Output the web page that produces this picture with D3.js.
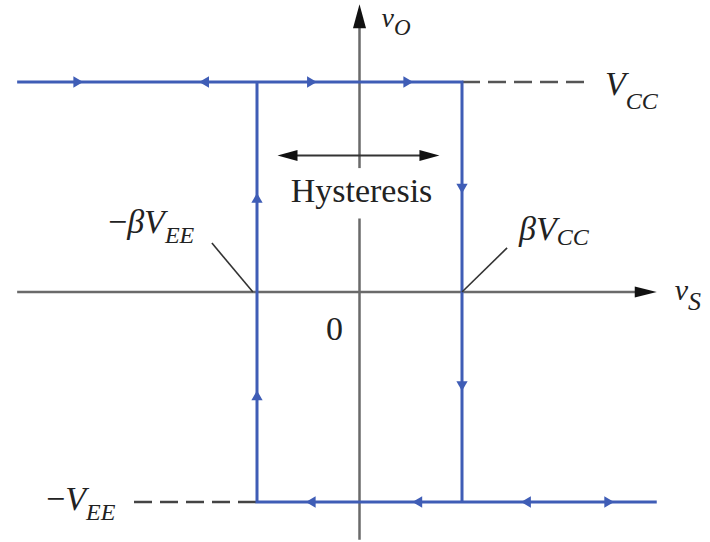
<!DOCTYPE html>
<html lang="en">
  <head>
    <meta charset="UTF-8" />
    <title>Hysteresis loop</title>
    <style>
      body {
        margin: 0;
        background: #fff;
      }
      svg {
        display: block;
      }
      text {
        font-family: "Liberation Serif", "DejaVu Serif", serif;
        fill: #222;
      }
      .var {
        font-style: italic;
      }
    </style>
  </head>
  <body>
    <svg></svg>
    <script src="https://d3js.org/d3.v7.min.js"></script>
    <script>
      // output levels: V_CC (top) and -V_EE (bottom)
      const levels = [1, -1];
      // switching points: -βV_EE and βV_CC
      const thresholds = [-0.5, 0.5];
      // axis extents (input on x, output on y)
      const xAxisExtent = [-1.67, 1.45];
      const yAxisExtent = [-1.18, 1.37];
      // break in the vertical axis around the "Hysteresis" word
      const yAxisGap = [0.35, 0.59];
      // where the dashed level guides stop
      const topGuideEnd = 1.11;
      const bottomGuideStart = -1.1;
      // hysteresis width arrow
      const hysteresisSpan = [-0.4, 0.39];
      const hysteresisLevel = 0.65;
      // direction markers along the loop
      const loopArrows = [
        { x: -1.38, y: 1, dir: "right" },
        { x: -0.75, y: 1, dir: "left" },
        { x: -0.24, y: 1, dir: "right" },
        { x: 0.23, y: 1, dir: "right" },
        { x: -0.23, y: -1, dir: "left" },
        { x: 0.29, y: -1, dir: "left" },
        { x: 0.82, y: -1, dir: "left" },
        { x: 1.21, y: -1, dir: "right" },
        { x: -0.5, y: 0.44, dir: "up" },
        { x: -0.5, y: -0.5, dir: "up" },
        { x: 0.5, y: 0.5, dir: "down" },
        { x: 0.5, y: -0.44, dir: "down" },
      ];
      // leader lines from the threshold labels
      const leaders = [
        [[-0.72, 0.233], [-0.52, 0]],
        [[0.5, 0], [0.72, 0.21]],
      ];

      const width = 710;
      const height = 542;
      const blue = "#3f5db6";
      const axisGray = "#6a6a6a";

      const svg = d3.select("svg").attr("width", width).attr("height", height);

      const x = d3.scaleLinear().domain([-0.5, 0.5]).range([257, 462]);
      const y = d3.scaleLinear().domain([-1, 1]).range([502, 82]);
      const line = d3
        .line()
        .x((d) => x(d[0]))
        .y((d) => y(d[1]));

      // arrow head path with tip at (tx, ty) pointing along angle (radians)
      const arrowHead = (tx, ty, angle, len, half) => {
        const c = Math.cos(angle);
        const s = Math.sin(angle);
        const bx = tx - c * len;
        const by = ty - s * len;
        return `M${tx},${ty}L${bx - s * half},${by + c * half}L${bx + s * half},${by - c * half}Z`;
      };

      // axes
      svg
        .append("path")
        .attr("d", line([[xAxisExtent[0], 0], [xAxisExtent[1] - 0.08, 0]]))
        .attr("stroke", axisGray)
        .attr("stroke-width", 2.5)
        .attr("fill", "none");
      svg
        .append("path")
        .attr("d", arrowHead(x(xAxisExtent[1]), y(0), 0, 22, 5.5))
        .attr("fill", "#111");

      svg
        .selectAll(".yaxis")
        .data([
          [yAxisExtent[0], yAxisGap[0]],
          [yAxisGap[1], yAxisExtent[1] - 0.08],
        ])
        .enter()
        .append("path")
        .attr("class", "yaxis")
        .attr("d", (d) => line([[0, d[0]], [0, d[1]]]))
        .attr("stroke", axisGray)
        .attr("stroke-width", 2.5)
        .attr("fill", "none");
      svg
        .append("path")
        .attr("d", arrowHead(x(0), y(yAxisExtent[1]), -Math.PI / 2, 24, 6.5))
        .attr("fill", "#111");

      // dashed level guides
      svg
        .append("path")
        .attr("d", line([[thresholds[1], levels[0]], [topGuideEnd, levels[0]]]))
        .attr("stroke", "#555")
        .attr("stroke-width", 2.5)
        .attr("stroke-dasharray", "18 8")
        .attr("fill", "none");
      svg
        .append("path")
        .attr("d", line([[bottomGuideStart, levels[1]], [thresholds[0], levels[1]]]))
        .attr("stroke", "#444")
        .attr("stroke-width", 2.5)
        .attr("stroke-dasharray", "18 8")
        .attr("fill", "none");

      // the loop itself
      const loopPaths = [
        [
          [xAxisExtent[0], levels[0]],
          [thresholds[1], levels[0]],
          [thresholds[1], levels[1]],
        ],
        [
          [xAxisExtent[1], levels[1]],
          [thresholds[0], levels[1]],
          [thresholds[0], levels[0]],
        ],
      ];
      svg
        .selectAll(".loop")
        .data(loopPaths)
        .enter()
        .append("path")
        .attr("class", "loop")
        .attr("d", line)
        .attr("stroke", blue)
        .attr("stroke-width", 3)
        .attr("fill", "none");

      const rotation = { up: 0, right: 90, down: 180, left: -90 };
      svg
        .selectAll(".dir")
        .data(loopArrows)
        .enter()
        .append("path")
        .attr("class", "dir")
        .attr("d", d3.symbol(d3.symbolTriangle, 55))
        .attr("transform", (d) => `translate(${x(d.x)},${y(d.y)}) rotate(${rotation[d.dir]})`)
        .attr("fill", blue);

      // hysteresis width arrow
      svg
        .append("path")
        .attr("d", line([[hysteresisSpan[0] + 0.05, hysteresisLevel], [hysteresisSpan[1] - 0.05, hysteresisLevel]]))
        .attr("stroke", "#333")
        .attr("stroke-width", 2)
        .attr("fill", "none");
      svg
        .append("path")
        .attr("d", arrowHead(x(hysteresisSpan[0]), y(hysteresisLevel), Math.PI, 20, 5.5))
        .attr("fill", "#111");
      svg
        .append("path")
        .attr("d", arrowHead(x(hysteresisSpan[1]), y(hysteresisLevel), 0, 20, 5.5))
        .attr("fill", "#111");

      // leader lines
      svg
        .selectAll(".leader")
        .data(leaders)
        .enter()
        .append("path")
        .attr("class", "leader")
        .attr("d", line)
        .attr("stroke", "#333")
        .attr("stroke-width", 1.6)
        .attr("fill", "none");

      // labels: main part plus subscript
      const label = (px, py, main, sub, subDy, mainSize, subSize, italicMain = true) => {
        const t = svg.append("text").attr("x", px).attr("y", py);
        t.append("tspan")
          .attr("class", italicMain ? "var" : null)
          .attr("font-size", mainSize)
          .text(main);
        if (sub) {
          t.append("tspan")
            .attr("class", "var")
            .attr("font-size", subSize)
            .attr("dy", subDy)
            .text(sub);
        }
        return t;
      };

      label(x(0) + 22, 27, "v", "O", 8, 28, 23);
      label(x(xAxisExtent[1]) + 18, y(0) + 8, "v", "S", 10, 30, 26);
      label(x(topGuideEnd) + 18, y(levels[0]) + 13, "V", "CC", 14, 34, 24);
      label(x(bottomGuideStart) - 88, y(levels[1]) + 8, "\u2212", null, 0, 34, 24, false)
        .append("tspan")
        .attr("class", "var")
        .attr("font-size", 34)
        .text("V")
        .clone()
        .attr("font-size", 24)
        .attr("dy", 10)
        .text("EE");
      label(108, y(leaders[0][0][1]) - 10, "\u2212", null, 0, 34, 24, false)
        .append("tspan")
        .attr("class", "var")
        .attr("font-size", 34)
        .text("\u03b2V")
        .clone()
        .attr("font-size", 24)
        .attr("dy", 10)
        .text("EE");
      label(x(leaders[1][1][0]) + 12, y(leaders[1][1][1]) - 8, "\u03b2V", "CC", 5, 34, 24);

      svg
        .append("text")
        .attr("x", x(0) - 25)
        .attr("y", y(0) + 48)
        .attr("text-anchor", "middle")
        .attr("font-size", 34)
        .text("0");

      svg
        .append("text")
        .attr("x", x(0) + 2)
        .attr("y", 202)
        .attr("text-anchor", "middle")
        .attr("font-size", 34)
        .text("Hysteresis");
    </script>
  </body>
</html>
